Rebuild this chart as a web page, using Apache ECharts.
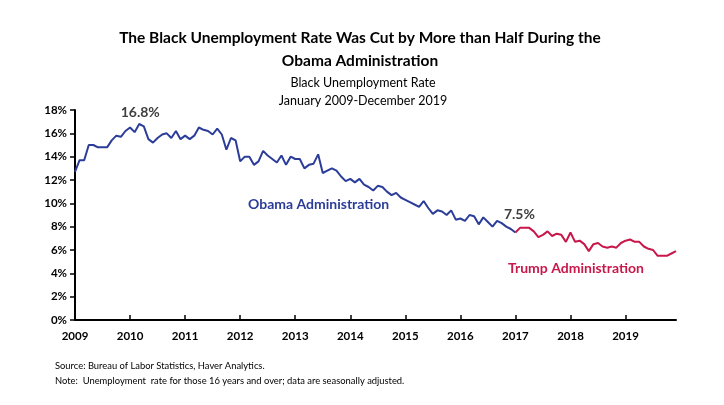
<!DOCTYPE html>
<html><head><meta charset="utf-8">
<script src="https://cdn.jsdelivr.net/npm/echarts@6/dist/echarts.min.js"></script>
<style>html,body{margin:0;padding:0;background:#fff}#c{width:724px;height:405px}</style>
</head><body><div id="c"></div>
<script>
// Years on the x axis (ticks at January of each year)
var years = [2009, 2010, 2011, 2012, 2013, 2014, 2015, 2016, 2017, 2018, 2019];
// Y axis ticks
var yTicks = [0, 2, 4, 6, 8, 10, 12, 14, 16, 18];
// Black unemployment rate, Jan 2009 - Jan 2017 (Obama administration)
var obamaRates = [
  12.7, 13.7, 13.7, 15.0, 15.0, 14.8, 14.8, 14.8, 15.4, 15.8, 15.7, 16.2,
  16.5, 16.1, 16.8, 16.6, 15.5, 15.2, 15.6, 15.9, 16.0, 15.6, 16.2, 15.5,
  15.8, 15.5, 15.8, 16.5, 16.3, 16.2, 15.9, 16.4, 15.9, 14.6, 15.6, 15.4,
  13.6, 14.0, 14.0, 13.3, 13.6, 14.5, 14.1, 13.8, 13.5, 14.1, 13.3, 14.0,
  13.8, 13.8, 13.0, 13.3, 13.4, 14.2, 12.6, 12.8, 13.0, 12.8, 12.3, 11.9,
  12.1, 11.8, 12.1, 11.6, 11.4, 11.1, 11.5, 11.4, 11.0, 10.7, 10.9, 10.5,
  10.3, 10.1, 9.9, 9.7, 10.2, 9.6, 9.1, 9.4, 9.3, 9.0, 9.4, 8.6,
  8.7, 8.5, 9.0, 8.9, 8.2, 8.8, 8.4, 8.0, 8.5, 8.3, 8.0, 7.8,
  7.5
];
// Jan 2017 - Dec 2019 (Trump administration)
var trumpRates = [
  7.5, 7.9, 7.9, 7.9, 7.6, 7.1, 7.3, 7.6, 7.2, 7.4, 7.3, 6.7,
  7.5, 6.7, 6.8, 6.5, 5.9, 6.5, 6.6, 6.3, 6.2, 6.3, 6.2, 6.6,
  6.8, 6.9, 6.7, 6.7, 6.3, 6.1, 6.0, 5.5, 5.5, 5.5, 5.7, 5.9
];
var peakLabel = {index: 14, value: 16.8, text: '16.8%'};
var endLabel = {index: 96, value: 7.5, text: '7.5%'};

var months = [];
years.forEach(function (y) { for (var m = 1; m <= 12; m++) months.push(y + '-' + (m < 10 ? '0' : '') + m); });
var obamaSeries = months.map(function (_, i) { return i < obamaRates.length ? obamaRates[i] : null; });
var trumpStart = obamaRates.length - 1;
var trumpSeries = months.map(function (_, i) { return i >= trumpStart ? trumpRates[i - trumpStart] : null; });

var FONT = 'Lato';
var BLUE = '#2b3d98';
var RED = '#c8174a';
var chart = echarts.init(document.getElementById('c'), null, {renderer: 'canvas'});
chart.setOption({
  animation: false,
  textStyle: {fontFamily: FONT},
  title: [
    {text: 'The Black Unemployment Rate Was Cut by More than Half During the\nObama Administration',
     left: 355, top: 21, textAlign: 'center',
     textStyle: {fontFamily: FONT, fontSize: 15.5, fontWeight: 'bold', color: '#000', lineHeight: 23}},
    {text: 'Black Unemployment Rate\nJanuary 2009-December 2019',
     left: 358, top: 69, textAlign: 'center',
     textStyle: {fontFamily: FONT, fontSize: 12.5, fontWeight: 'normal', color: '#000', lineHeight: 18}},
    {text: 'Source: Bureau of Labor Statistics, Haver Analytics.\nNote:  Unemployment  rate for those 16 years and over; data are seasonally adjusted.',
     left: 50, top: 353, textAlign: 'left',
     textStyle: {fontFamily: FONT, fontSize: 9.4, fontWeight: 'normal', color: '#000', lineHeight: 15}}
  ],
  grid: {left: 75, right: 48, top: 110, bottom: 85, containLabel: false},
  xAxis: {
    type: 'category', data: months, boundaryGap: false,
    axisLine: {lineStyle: {color: '#000', width: 2}},
    axisTick: {inside: true, length: 5, lineStyle: {color: '#000', width: 1.5},
               interval: function (i) { return i % 12 === 0; }},
    axisLabel: {interval: function (i) { return i % 12 === 0; },
                formatter: function (v) { return v.slice(0, 4); },
                color: '#000', fontWeight: 'bold', fontSize: 11.5, fontFamily: FONT, margin: 10},
    splitLine: {show: false}
  },
  yAxis: {
    type: 'value', min: yTicks[0], max: yTicks[yTicks.length - 1], interval: 2,
    axisLine: {show: true, lineStyle: {color: '#000', width: 2}},
    axisTick: {show: true, inside: false, length: 5, lineStyle: {color: '#000', width: 1.5}},
    axisLabel: {formatter: '{value}%', color: '#000', fontWeight: 'bold', fontSize: 11.5, fontFamily: FONT, margin: 8},
    splitLine: {show: false}
  },
  series: [
    {type: 'line', name: 'Obama', data: obamaSeries, showSymbol: false, symbol: 'none',
     lineStyle: {color: BLUE, width: 2}, itemStyle: {color: BLUE},
     markPoint: {symbol: 'circle', symbolSize: 0, silent: true,
       data: [{coord: [peakLabel.index, peakLabel.value], value: peakLabel.text,
               label: {show: true, formatter: peakLabel.text, offset: [1, -12], color: '#404040', fontWeight: 'bold', fontSize: 14, fontFamily: FONT}},
              {coord: [endLabel.index, endLabel.value], value: endLabel.text,
               label: {show: true, formatter: endLabel.text, offset: [4, -18], color: '#404040', fontWeight: 'bold', fontSize: 14, fontFamily: FONT}}]}},
    {type: 'line', name: 'Trump', data: trumpSeries, showSymbol: false, symbol: 'none',
     lineStyle: {color: RED, width: 2}, itemStyle: {color: RED}}
  ],
  graphic: [
    {type: 'text', left: 248, top: 197, style: {text: 'Obama Administration', fill: BLUE, font: 'bold 14px ' + FONT}},
    {type: 'text', left: 508, top: 261, style: {text: 'Trump Administration', fill: RED, font: 'bold 14px ' + FONT}}
  ]
});
</script></body></html>
